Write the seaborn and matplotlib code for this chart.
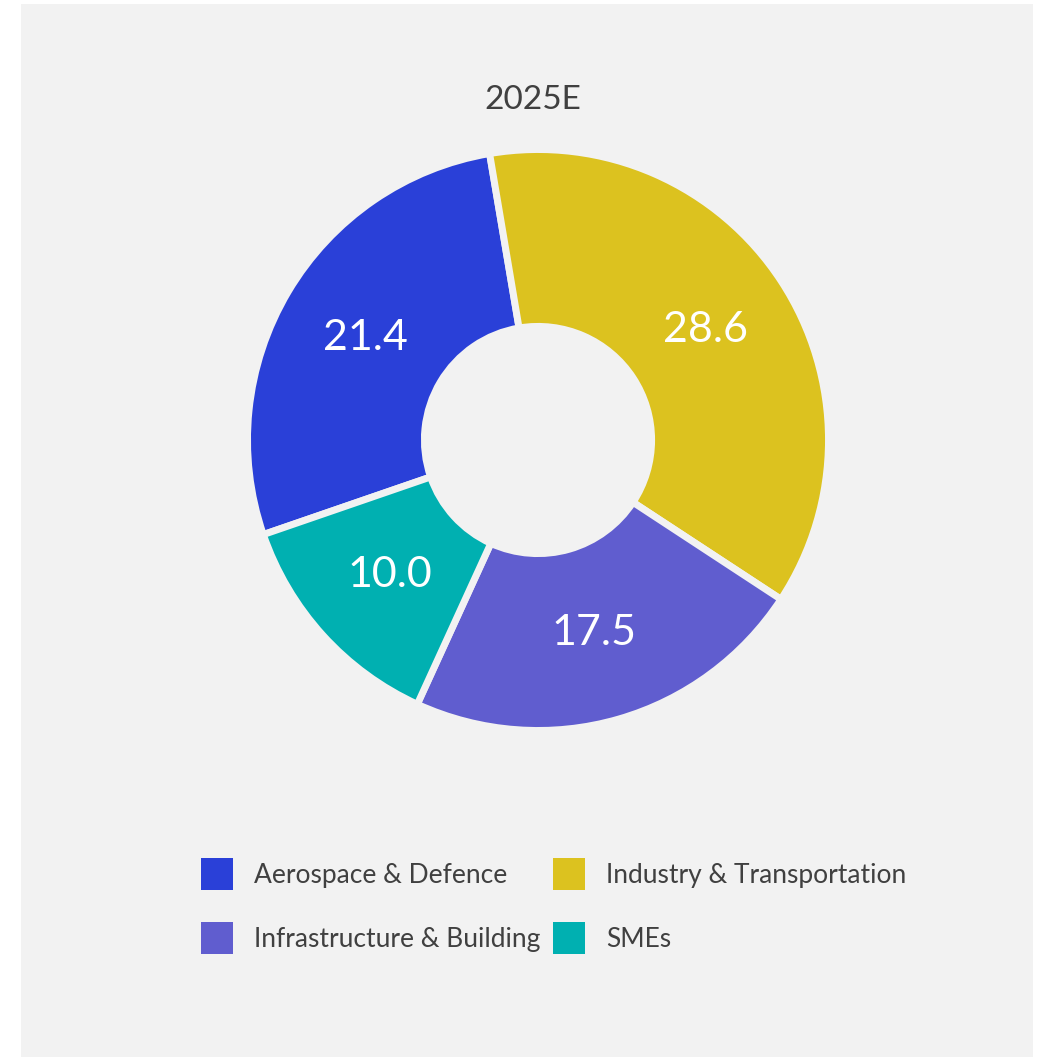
import numpy as np
import matplotlib
matplotlib.use('Agg')
import matplotlib.pyplot as plt
import matplotlib.patches as mpatches
import seaborn as sns

# 数据
categories = ['Aerospace & Defence', 'Industry & Transportation',
              'Infrastructure & Building', 'SMEs']
values = [21.4, 28.6, 17.5, 10.0]
colors = ['#2A40D8', '#DCC21F', '#605DCF', '#00B0B1']
title = '2025E'

BG = '#F2F2F2'
TXT = '#404040'

sns.set_theme(style='white')
plt.rcParams['font.family'] = ['Lato', 'DejaVu Sans']

W, H = 1043, 1057
fig = plt.figure(figsize=(W / 100, H / 100), dpi=100, facecolor='white')

# 灰色背景面板
panel = mpatches.Rectangle((21 / W, 0), (1033 - 21) / W, 1 - 4 / H,
                           transform=fig.transFigure,
                           facecolor=BG, edgecolor='none', zorder=-10)
fig.patches.append(panel)

# 环形图（半径按描边宽度补偿）
cx, cy, r = 538, 440, 290.5
ax = fig.add_axes([(cx - r) / W, (H - cy - r) / H, 2 * r / W, 2 * r / H])
ax.set_facecolor('none')
ax.set_zorder(1)
total = sum(values)
wedges, texts, autotexts = ax.pie(
    values, colors=colors, startangle=199, counterclock=False,
    radius=1.0, pctdistance=0.69,
    autopct=lambda p: f'{p * total / 100:.1f}',
    wedgeprops=dict(width=0.609, edgecolor=BG, linewidth=5),
    textprops=dict(color='white', fontsize=31))
ax.set_xlim(-1, 1)
ax.set_ylim(-1, 1)
ax.set_aspect('equal')
ax.axis('off')

fig.text(533 / W, 1 - 100 / H, title, ha='center', va='center',
         fontsize=24, color=TXT)

# 图例（按列填充，所以重新排序成两行）
order = [0, 2, 1, 3]
handles = [mpatches.Patch(facecolor=colors[i], edgecolor='none') for i in order]
labels = [categories[i] for i in order]
leg = fig.legend(handles, labels, ncol=2, loc='upper left',
                 bbox_to_anchor=(201 / W, 1 - 858 / H), frameon=False,
                 fontsize=19, handlelength=1.2, handleheight=1.5,
                 handletextpad=0.8, columnspacing=0.5, labelspacing=1.2,
                 borderpad=0, borderaxespad=0)
leg.set_zorder(2)
for t in leg.get_texts():
    t.set_color(TXT)

plt.savefig('out.png', dpi=100, facecolor='white')
